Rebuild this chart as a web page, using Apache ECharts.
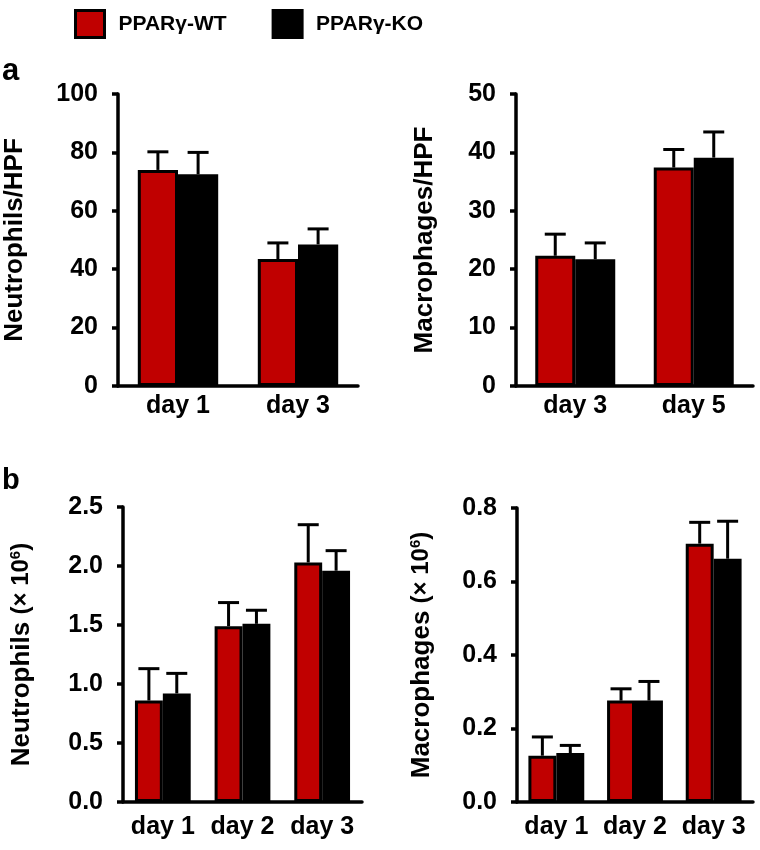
<!DOCTYPE html>
<html>
<head>
<meta charset="utf-8">
<script src="https://cdn.jsdelivr.net/npm/echarts@6/dist/echarts.min.js"></script>
<style>html,body{margin:0;padding:0;background:#fff}#c{width:760px;height:850px}</style>
</head>
<body>
<div id="c"></div>
<script>
// ---- data ----
const seriesNames = ['PPARγ-WT', 'PPARγ-KO'];

const aLeftCats = ['day 1', 'day 3'];
const aLeftWT = [74, 43.5];
const aLeftWTErr = [6.2, 5.5];
const aLeftKO = [72.5, 48.5];
const aLeftKOErr = [7.5, 5.3];

const aRightCats = ['day 3', 'day 5'];
const aRightWT = [22.3, 37.4];
const aRightWTErr = [3.7, 3.1];
const aRightKO = [21.7, 39.1];
const aRightKOErr = [2.8, 4.4];

const bLeftCats = ['day 1', 'day 2', 'day 3'];
const bLeftWT = [0.86, 1.49, 2.03];
const bLeftWTErr = [0.27, 0.20, 0.32];
const bLeftKO = [0.92, 1.51, 1.96];
const bLeftKOErr = [0.17, 0.115, 0.17];

const bRightCats = ['day 1', 'day 2', 'day 3'];
const bRightWT = [0.126, 0.276, 0.703];
const bRightWTErr = [0.051, 0.032, 0.058];
const bRightKO = [0.133, 0.276, 0.662];
const bRightKOErr = [0.021, 0.052, 0.102];

// ---- style ----
const RED = '#c00000';
const FONT = '"Liberation Sans", Arial, sans-serif';
const AXW = 3.5;
const TICKFS = 25;
const NAMEFS = 26;

const panels = [
  {cats: aLeftCats, wt: aLeftWT, wtE: aLeftWTErr, ko: aLeftKO, koE: aLeftKOErr,
   grid: {left: 118, top: 94, width: 240, height: 292}, min: 0, max: 100, interval: 20,
   fmt: v => String(v), name: 'Neutrophils/HPF', nameGap: 90, gap: 0.33, labelMargin: 8},
  {cats: aRightCats, wt: aRightWT, wtE: aRightWTErr, ko: aRightKO, koE: aRightKOErr,
   grid: {left: 516, top: 94, width: 237, height: 292}, min: 0, max: 50, interval: 10,
   fmt: v => String(v), name: 'Macrophages/HPF', nameGap: 78, gap: 0.325, labelMargin: 8},
  {cats: bLeftCats, wt: bLeftWT, wtE: bLeftWTErr, ko: bLeftKO, koE: bLeftKOErr,
   grid: {left: 123, top: 507, width: 239, height: 295}, min: 0, max: 2.5, interval: 0.5,
   fmt: v => v.toFixed(1), name: '{b|Neutrophils }{n|(× 10}{s|6}{n|)}', nameGap: 88, gap: 0.30, labelMargin: 13},
  {cats: bRightCats, wt: bRightWT, wtE: bRightWTErr, ko: bRightKO, koE: bRightKOErr,
   grid: {left: 517, top: 508, width: 236, height: 294}, min: 0, max: 0.8, interval: 0.2,
   fmt: v => v.toFixed(1), name: '{b|Macrophages }{n|(× 10}{s|6}{n|)}', nameGap: 82, gap: 0.29, labelMargin: 13}
];

const grids = [], xAxes = [], yAxes = [], series = [];
const nameRich = {
  b: {fontFamily: FONT, fontWeight: 'bold', fontSize: NAMEFS, color: '#000'},
  n: {fontFamily: FONT, fontWeight: 'bold', fontSize: NAMEFS - 2, color: '#000'},
  s: {fontFamily: FONT, fontWeight: 'bold', fontSize: 15, color: '#000', padding: [0, 0, 12, 0]}
};

panels.forEach((p, i) => {
  grids.push(p.grid);
  xAxes.push({
    type: 'category', gridIndex: i, data: p.cats,
    axisLine: {lineStyle: {color: '#000', width: AXW}},
    axisTick: {show: false},
    axisLabel: {color: '#000', fontFamily: FONT, fontWeight: 'bold', fontSize: TICKFS, margin: p.labelMargin, interval: 0}
  });
  yAxes.push({
    type: 'value', gridIndex: i, min: p.min, max: p.max, interval: p.interval,
    splitLine: {show: false},
    axisLine: {show: true, lineStyle: {color: '#000', width: AXW}},
    axisTick: {show: true, length: 6, lineStyle: {color: '#000', width: AXW}},
    axisLabel: {color: '#000', fontFamily: FONT, fontWeight: 'bold', fontSize: TICKFS, margin: 20, formatter: p.fmt},
    name: p.name, nameLocation: 'middle', nameRotate: 90, nameGap: p.nameGap,
    nameTextStyle: {color: '#000', fontFamily: FONT, fontWeight: 'bold', fontSize: NAMEFS, rich: nameRich}
  });
  const groups = [[p.wt, p.wtE, RED], [p.ko, p.koE, '#000']];
  groups.forEach((g, k) => {
    series.push({
      type: 'bar', name: seriesNames[k], xAxisIndex: i, yAxisIndex: i,
      data: g[0], barGap: '0%', barCategoryGap: (p.gap * 100) + '%',
      itemStyle: {color: g[2], borderColor: '#000', borderWidth: 3},
      emphasis: {disabled: true}, z: 2
    });
  });
  groups.forEach((g, k) => {
    const gap = p.gap;
    series.push({
      type: 'custom', xAxisIndex: i, yAxisIndex: i, z: 5, silent: true,
      data: g[0].map((v, j) => [j, v, g[1][j]]),
      encode: {x: 0, y: 1},
      renderItem: function (params, api) {
        const cat = api.value(0), mean = api.value(1), err = api.value(2);
        const base = api.coord([cat, mean]);
        const topPt = api.coord([cat, mean + err]);
        const band = api.size([1, 0])[0];
        const group = band * (1 - gap);
        const bw = group / 2;
        const x = base[0] - group / 2 + bw * (k + 0.5);
        const half = 10.5;
        return {
          type: 'group',
          children: [
            {type: 'line', shape: {x1: x, y1: base[1], x2: x, y2: topPt[1]}, style: {stroke: '#000', lineWidth: 3}},
            {type: 'line', shape: {x1: x - half, y1: topPt[1], x2: x + half, y2: topPt[1]}, style: {stroke: '#000', lineWidth: 3}}
          ]
        };
      }
    });
  });
});

const chart = echarts.init(document.getElementById('c'), null, {renderer: 'canvas'});
chart.setOption({
  backgroundColor: '#fff',
  animation: false,
  legend: {
    data: seriesNames, left: 69, top: 4, icon: 'rect', itemWidth: 29, itemHeight: 27, itemGap: 45,
    selectedMode: false,
    itemStyle: {borderColor: '#000', borderWidth: 3},
    textStyle: {color: '#000', fontFamily: FONT, fontWeight: 'bold', fontSize: 21, padding: [0, 0, 0, 9]}
  },
  graphic: [
    {type: 'text', left: 2, top: 56, style: {text: 'a', font: 'bold 31px "Liberation Sans", Arial, sans-serif', fill: '#000'}},
    {type: 'text', left: 2, top: 466, style: {text: 'b', font: 'bold 29px "Liberation Sans", Arial, sans-serif', fill: '#000'}}
  ],
  grid: grids, xAxis: xAxes, yAxis: yAxes, series: series
});
</script>
</body>
</html>
